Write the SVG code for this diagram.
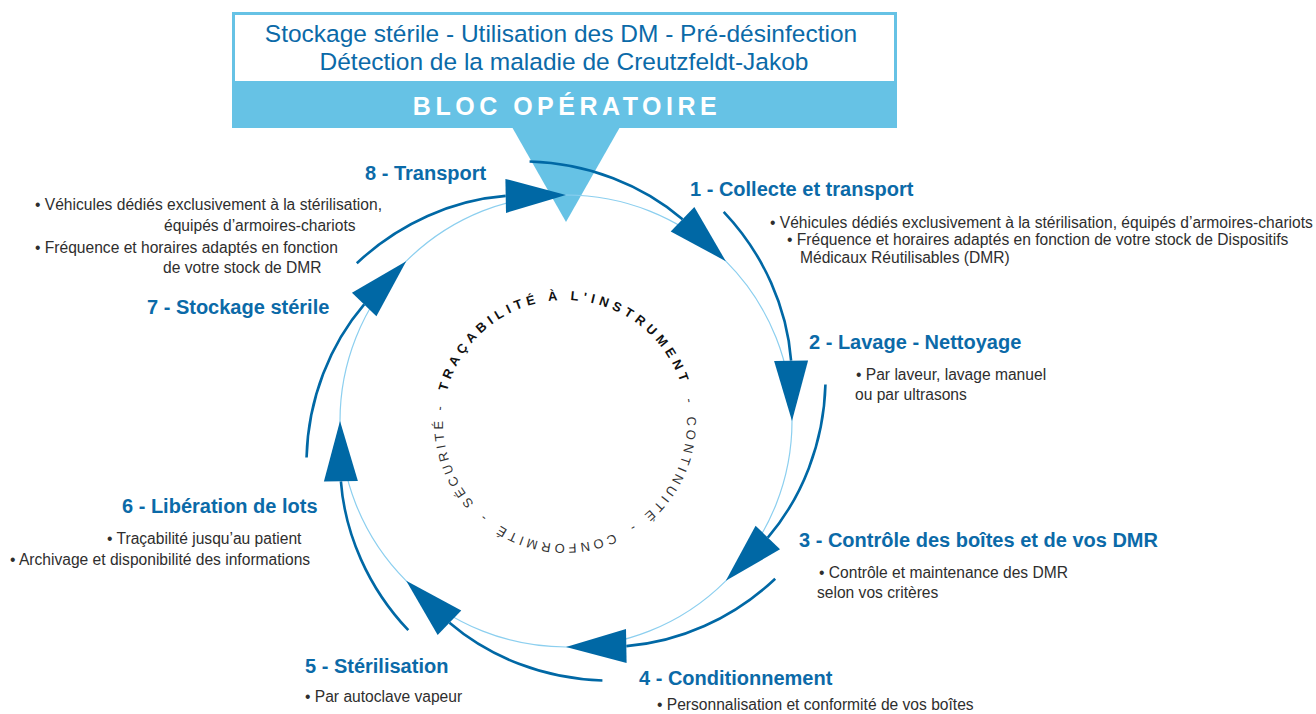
<svg xmlns="http://www.w3.org/2000/svg" width="1316" height="714" viewBox="0 0 1316 714">
<style>
.h{font-family:"Liberation Sans",Arial,sans-serif;font-weight:bold;font-size:20px;fill:#0b6aa8}
.b{font-family:"Liberation Sans",Arial,sans-serif;font-size:15.6px;fill:#2e2e2e}
.t{font-family:"Liberation Sans",Arial,sans-serif;font-size:24.5px;fill:#0b6aa8}
.ring{font-family:"Liberation Sans",Arial,sans-serif;font-size:13px;fill:#333;letter-spacing:3.5px}
.ringb{font-family:"Liberation Sans",Arial,sans-serif;font-size:13px;font-weight:bold;fill:#111;letter-spacing:4.5px}
.arc{fill:none;stroke:#0068a5;stroke-width:2.6}
.head{fill:#0068a5}
</style>
<defs>
<path id="ringpath" d="M687,422 A122,122 0 1 1 443,422 A122,122 0 1 1 687,422 A122,122 0 1 1 443,422 A122,122 0 1 1 687,422"/>
<g id="seg">
<path class="arc" d="M723.7,211.8 C764.1,254.4 787.1,308.5 791.1,360.7"/>
<polygon class="head" points="808.1,360.4 774.1,361 792,421"/>
</g>
</defs>
<rect width="1316" height="714" fill="#ffffff"/>

<g id="bloc">
<rect x="232" y="12" width="665" height="116" fill="#66c2e5"/>
<rect x="235" y="15" width="659" height="66" fill="#ffffff"/>
<polygon points="512,127 620,127 566,222" fill="#66c2e5"/>
<text class="t" x="561" y="42" text-anchor="middle">Stockage stérile - Utilisation des DM - Pré-désinfection</text>
<text class="t" x="564" y="70" text-anchor="middle">Détection de la maladie de Creutzfeldt-Jakob</text>
<text x="567" y="115" text-anchor="middle" font-family="Liberation Sans, Arial, sans-serif" font-weight="bold" font-size="25" letter-spacing="4.5" fill="#ffffff">BLOC OPÉRATOIRE</text>
</g>

<g id="connectors">
<circle cx="566" cy="421" r="226" fill="none" stroke="#8ccfef" stroke-width="1.2"/>
<use href="#seg" transform="rotate(-45 566 421)"/>
<use href="#seg"/>
<use href="#seg" transform="rotate(45 566 421)"/>
<use href="#seg" transform="rotate(90 566 421)"/>
<use href="#seg" transform="rotate(135 566 421)"/>
<use href="#seg" transform="rotate(180 566 421)"/>
<use href="#seg" transform="rotate(225 566 421)"/>
<use href="#seg" transform="rotate(270 566 421)"/>
</g>

<g id="centre">
<text class="ring"><textPath href="#ringpath" startOffset="123.5" text-anchor="middle">-</textPath></text>
<text class="ring"><textPath href="#ringpath" startOffset="202" text-anchor="middle">CONFORMITÉ</textPath></text>
<text class="ring"><textPath href="#ringpath" startOffset="279" text-anchor="middle">-</textPath></text>
<text class="ring"><textPath href="#ringpath" startOffset="341" text-anchor="middle">SÉCURITÉ</textPath></text>
<text class="ring"><textPath href="#ringpath" startOffset="398" text-anchor="middle">-</textPath></text>
<text class="ringb"><textPath href="#ringpath" startOffset="572" text-anchor="middle">TRAÇABILITÉ À L'INSTRUMENT</textPath></text>
<text class="ring"><textPath href="#ringpath" startOffset="747" text-anchor="middle">-</textPath></text>
<text class="ring"><textPath href="#ringpath" startOffset="818" text-anchor="middle">CONTINUITÉ</textPath></text>
</g>

<g id="step1">
<text class="h" x="690" y="196">1 - Collecte et transport</text>
<text class="b" x="770" y="228">• Véhicules dédiés exclusivement à la stérilisation, équipés d’armoires-chariots</text>
<text class="b" x="787" y="245">• Fréquence et horaires adaptés en fonction de votre stock de Dispositifs</text>
<text class="b" x="800" y="263">Médicaux Réutilisables (DMR)</text>
</g>
<g id="step2">
<text class="h" x="809" y="349">2 - Lavage - Nettoyage</text>
<text class="b" x="856" y="380">• Par laveur, lavage manuel</text>
<text class="b" x="855" y="400">ou par ultrasons</text>
</g>
<g id="step3">
<text class="h" x="799" y="547">3 - Contrôle des boîtes et de vos DMR</text>
<text class="b" x="819" y="578">• Contrôle et maintenance des DMR</text>
<text class="b" x="817" y="598">selon vos critères</text>
</g>
<g id="step4">
<text class="h" x="639" y="685">4 - Conditionnement</text>
<text class="b" x="657" y="710">• Personnalisation et conformité de vos boîtes</text>
</g>
<g id="step5">
<text class="h" x="305" y="673">5 - Stérilisation</text>
<text class="b" x="305" y="702">• Par autoclave vapeur</text>
</g>
<g id="step6">
<text class="h" x="122" y="513">6 - Libération de lots</text>
<text class="b" x="107" y="544">• Traçabilité jusqu’au patient</text>
<text class="b" x="10" y="565">• Archivage et disponibilité des informations</text>
</g>
<g id="step7">
<text class="h" x="147" y="314">7 - Stockage stérile</text>
</g>
<g id="step8">
<text class="h" x="365" y="180">8 - Transport</text>
<text class="b" x="35" y="210">• Véhicules dédiés exclusivement à la stérilisation,</text>
<text class="b" x="164" y="231">équipés d’armoires-chariots</text>
<text class="b" x="35" y="253">• Fréquence et horaires adaptés en fonction</text>
<text class="b" x="163" y="273">de votre stock de DMR</text>
</g>
</svg>
